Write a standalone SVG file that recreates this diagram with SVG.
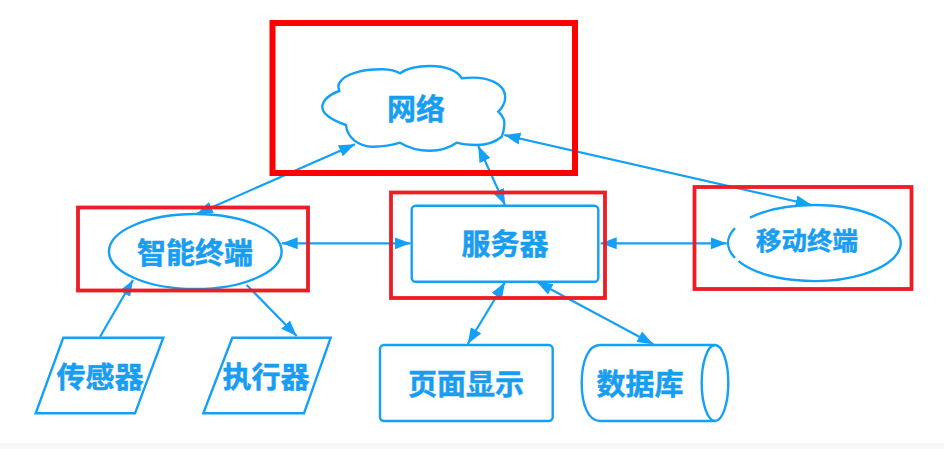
<svg xmlns="http://www.w3.org/2000/svg" width="944" height="449" viewBox="0 0 944 449">
<style>
.s{fill:none;stroke:#14a0f4;stroke-width:2.4}
.c{fill:none;stroke:#14a0f4;stroke-width:2.2}
.r{fill:none;stroke:#ee1c25;stroke-width:3.8}
text{font-family:"Noto Sans CJK SC","Noto Sans",sans-serif;font-weight:700;font-size:29px;fill:#199df0;stroke:#199df0;stroke-width:.5px;text-anchor:middle}
</style>
<defs>
<marker id="a" markerUnits="userSpaceOnUse" markerWidth="18" markerHeight="13" refX="16" refY="6" orient="auto-start-reverse" viewBox="0 0 18 12"><path d="M0 0L16 6L0 12Z" fill="#14a0f4"/></marker>
</defs>
<rect x="0" y="0" width="944" height="449" fill="#fff"/>
<rect x="0" y="443" width="944" height="6" fill="#f7f8f8"/>
<g id="connectors">
<path class="c" d="M355 144.3L196.7 214" marker-start="url(#a)" marker-end="url(#a)"/>
<path class="c" d="M478.3 146L505 205" marker-start="url(#a)" marker-end="url(#a)"/>
<path class="c" d="M504.3 135L811.7 205" marker-start="url(#a)" marker-end="url(#a)"/>
<path class="c" d="M281.7 243.3H410.7" marker-start="url(#a)" marker-end="url(#a)"/>
<path class="c" d="M600.7 243.3H726.7" marker-start="url(#a)" marker-end="url(#a)"/>
<path class="c" d="M100 336.7L133 280" marker-end="url(#a)"/>
<path class="c" d="M246.7 285L296.7 336" marker-end="url(#a)"/>
<path class="c" d="M505 282.3L467.7 344" marker-start="url(#a)" marker-end="url(#a)"/>
<path class="c" d="M536.7 281.7L653.3 344.3" marker-start="url(#a)" marker-end="url(#a)"/>
</g>
<g id="network">
<path class="s" d="M339.3 91C338 86 338 85 340 82C345 74 362 69 383 69.3C390 69.5 396 71 400 73.3C407 68 418 66 430 66C446 66 458 71 461.7 78.3C488 75 507 84 505 100C504 105 502 108 498.3 111.7C503 116 505 120 504.3 125C504 130 503 134 501.7 136.7C494 143 487 145 476.7 145C468 145 461 144 456.7 142.7C449 148 440 150.7 430 150.7C417 150.7 407 147 400 142.7C393 145 383 146.7 373 146.7C358 146.7 347 137 346 125C332 120 322 114 322.3 106.7C323 99 331 94 339.3 91Z"/>
<text x="416" y="119.500">网络</text>
<rect x="272.500" y="23" width="302.500" height="150" fill="none" stroke="#ff0000" stroke-width="6"/>
</g>
<g id="smart-terminal">
<ellipse class="s" cx="195.300" cy="251.500" rx="86.300" ry="37.500"/>
<text x="195" y="263.500">智能终端</text>
<rect class="r" x="78" y="207.500" width="230" height="83"/>
</g>
<g id="server">
<rect class="s" x="411.700" y="205.700" width="186.600" height="76" rx="4"/>
<text x="505" y="255">服务器</text>
<rect class="r" x="391" y="192.500" width="214" height="105.500"/>
</g>
<g id="mobile-terminal">
<path class="s" d="M750 217.700A86.300 38 0 1 1 738.500 261.100M735 257.900A86.300 38 0 0 1 735 228.100"/>
<text x="807" y="250" style="font-size:25.500px">移动终端</text>
<rect class="r" x="694.500" y="187" width="217" height="102"/>
</g>
<g id="sensor">
<path class="s" d="M63.300 337.700H163.300L135 413.300H35.700Z"/>
<text x="100" y="387.500">传感器</text>
</g>
<g id="actuator">
<path class="s" d="M232.300 337.700H330.700L304 413.300H203.300Z"/>
<text x="266" y="387.500">执行器</text>
</g>
<g id="page-display">
<rect class="s" x="380" y="345" width="172.700" height="76" rx="4"/>
<text x="466" y="394.500">页面显示</text>
</g>
<g id="database">
<path class="s" d="M715 345H600C588 345 581.700 362 581.700 383C581.700 404 588 421 600 421H715"/>
<ellipse class="s" cx="715" cy="383" rx="13.300" ry="38"/>
<text x="640" y="394.500">数据库</text>
</g>
</svg>
